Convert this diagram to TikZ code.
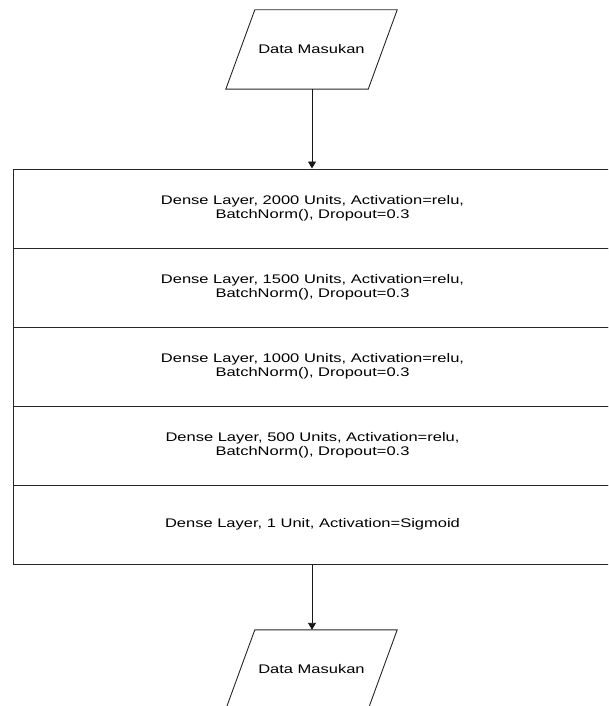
\documentclass[tikz,border=0pt]{standalone}
\usepackage{fontspec}
\setmainfont{Liberation Sans}
\usetikzlibrary{arrows.meta}
\tikzset{
  io/.style={rectangle, minimum width=142pt, minimum height=79pt, inner sep=0pt, font=\fontsize{12.5}{14.4}\selectfont},
  ioline/.style={draw=black!85, line width=0.9pt, line join=miter},
  layer/.style={draw=black!85, line width=1pt, rectangle, minimum width=599pt, minimum height=79pt, inner sep=0pt,
    align=center, font=\fontsize{12.5}{14.4}\selectfont},
  flow/.style={draw=black!90, line width=0.9pt, -{Triangle[width=8pt,length=7pt]}}
}
\newcommand{\hstr}[1]{\scalebox{1.32}[1]{#1}}
\newcommand{\paral}[1]{\draw[ioline] ([xshift=14.5pt]#1.north west) -- ([xshift=14.5pt]#1.north east) -- ([xshift=-14.5pt]#1.south east) -- ([xshift=-14.5pt]#1.south west) -- cycle;}
\begin{document}
\begin{tikzpicture}[x=1pt,y=-1pt]
\useasboundingbox (0,0) rectangle (608,706);
\clip (0,0) rectangle (608,706);
\node[io] (in) at (311.5,49.5) {\hstr{Data Masukan}};
\paral{in}
\node[layer] (l1) at (312.5,208.5) {\hstr{Dense Layer, 2000 Units, Activation=relu,}\\\hstr{BatchNorm(), Dropout=0.3}};
\node[layer] (l2) at (312.5,287.5) {\hstr{Dense Layer, 1500 Units, Activation=relu,}\\\hstr{BatchNorm(), Dropout=0.3}};
\node[layer] (l3) at (312.5,366.5) {\hstr{Dense Layer, 1000 Units, Activation=relu,}\\\hstr{BatchNorm(), Dropout=0.3}};
\node[layer] (l4) at (312.5,445.5) {\hstr{Dense Layer, 500 Units, Activation=relu,}\\\hstr{BatchNorm(), Dropout=0.3}};
\node[layer] (l5) at (312.5,524.5) {\hstr{Dense Layer, 1 Unit, Activation=Sigmoid}};
\node[io] (out) at (311.5,669.5) {\hstr{Data Masukan}};
\paral{out}
\draw[flow] (in.south -| 312,0) -- (l1.north -| 312,0);
\draw[flow] (l5.south -| 312,0) -- (out.north -| 312,0);
\end{tikzpicture}
\end{document}
